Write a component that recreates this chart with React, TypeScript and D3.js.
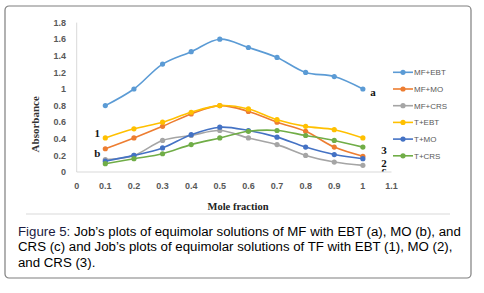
import React from "react";
import * as d3 from "d3";

const xValues = [0.1, 0.2, 0.3, 0.4, 0.5, 0.6, 0.7, 0.8, 0.9, 1.0];
const mfEbt = [0.8, 1.0, 1.3, 1.45, 1.6, 1.5, 1.38, 1.2, 1.15, 1.0];
const mfMo = [0.28, 0.41, 0.55, 0.7, 0.8, 0.73, 0.6, 0.49, 0.3, 0.19];
const mfCrs = [0.15, 0.2, 0.38, 0.44, 0.5, 0.41, 0.33, 0.2, 0.12, 0.08];
const tEbt = [0.41, 0.52, 0.6, 0.72, 0.8, 0.76, 0.63, 0.55, 0.51, 0.41];
const tMo = [0.13, 0.2, 0.29, 0.45, 0.54, 0.5, 0.42, 0.3, 0.21, 0.16];
const tCrs = [0.1, 0.16, 0.22, 0.33, 0.41, 0.49, 0.5, 0.44, 0.38, 0.3];

const seriesNames = ["MF+EBT", "MF+MO", "MF+CRS", "T+EBT", "T+MO", "T+CRS"];
const seriesColors = ["#5B9BD5", "#ED7D31", "#A5A5A5", "#FFC000", "#4472C4", "#70AD47"];
const seriesValues = [mfEbt, mfMo, mfCrs, tEbt, tMo, tCrs];
const drawOrder = [0, 1, 2, 3, 4, 5];

const xTicks = [0, 0.1, 0.2, 0.3, 0.4, 0.5, 0.6, 0.7, 0.8, 0.9, 1, 1.1];
const yTicks = [0, 0.2, 0.4, 0.6, 0.8, 1, 1.2, 1.4, 1.6, 1.8];

const captionLines = [
  ["Figure 5:", " Job\u2019s plots of equimolar solutions of MF with EBT (a), MO (b), and"],
  ["", "CRS (c) and Job\u2019s plots of equimolar solutions of TF with EBT (1), MO (2),"],
  ["", "and CRS (3)."],
];

// annotation labels: anchored to a data point, with a small pixel offset
const annotations = [
  { text: "a", x: 1.0, y: 1.0, dx: 10, dy: 7 },
  { text: "1", x: 0.1, y: 0.41, dx: -8, dy: -0.5 },
  { text: "b", x: 0.1, y: 0.28, dx: -8, dy: 8 },
  { text: "3", x: 1.0, y: 0.3, dx: 21, dy: 7 },
  { text: "2", x: 1.0, y: 0.16, dx: 21, dy: 8 },
  { text: "c", x: 1.0, y: 0.08, dx: 21, dy: 8.5 },
];

export default function App() {
  const W = 484;
  const H = 293;
  const x0 = 76.7;
  const x1 = 391.5;
  const y0 = 172;
  const y1 = 22.6;
  const x = d3.scaleLinear().domain([0, 1.1]).range([x0, x1]);
  const y = d3.scaleLinear().domain([0, 1.8]).range([y0, y1]);
  const line = d3
    .line<number>()
    .x((_, i) => x(xValues[i]))
    .y((v) => y(v))
    .curve(d3.curveCatmullRom.alpha(0.5));

  const legendX = 393;
  const legendY0 = 72.3;
  const legendDy = 16.7;

  return (
    <svg
      width={W}
      height={H}
      style={{ position: "absolute", left: 0, top: 0, background: "#fff" }}
    >
      <defs>
        <clipPath id="plotclip">
          <rect x={x0 - 5} y={0} width={x1 - x0 + 35} height={y0 - 0.5} />
        </clipPath>
      </defs>
      <rect x={5} y={6} width={466} height={272} rx={4} fill="#fff" stroke="#7f7f7f" strokeWidth={1.2} />

      {/* axes */}
      <line x1={x0} x2={x0} y1={y1} y2={y0} stroke="#d9d9d9" strokeWidth={1} />
      <line x1={x0} x2={x1} y1={y0} y2={y0} stroke="#d9d9d9" strokeWidth={1} />

      {yTicks.map((t) => (
        <text
          key={"y" + t}
          x={66}
          y={y(t) + 3.2}
          textAnchor="end"
          fontFamily="Liberation Sans, Arial, sans-serif"
          fontWeight="bold"
          fontSize={9}
          fill="#595959"
        >
          {String(t)}
        </text>
      ))}
      {xTicks.map((t) => (
        <text
          key={"x" + t}
          x={x(t)}
          y={189}
          textAnchor="middle"
          fontFamily="Liberation Sans, Arial, sans-serif"
          fontWeight="bold"
          fontSize={9}
          fill="#595959"
        >
          {String(t)}
        </text>
      ))}

      <text
        x={238}
        y={210}
        textAnchor="middle"
        fontFamily="Liberation Serif, Times New Roman, serif"
        fontWeight="bold"
        fontSize={10.5}
        fill="#222"
      >
        Mole fraction
      </text>
      <text
        transform={`translate(39,${(y0 + y1) / 2 + 27}) rotate(-90)`}
        textAnchor="middle"
        fontFamily="Liberation Serif, Times New Roman, serif"
        fontWeight="bold"
        fontSize={11}
        fill="#333"
      >
        Absorbance
      </text>

      {/* series */}
      {drawOrder.map((si) => (
        <g key={seriesNames[si]}>
          <path
            d={line(seriesValues[si]) || ""}
            fill="none"
            stroke={seriesColors[si]}
            strokeWidth={1.6}
          />
          {seriesValues[si].map((v, i) => (
            <circle key={i} cx={x(xValues[i])} cy={y(v)} r={2.6} fill={seriesColors[si]} />
          ))}
        </g>
      ))}

      {/* annotations */}
      <g clipPath="url(#plotclip)">
        {annotations.map((a) => (
          <text
            key={"ann" + a.text}
            x={x(a.x) + a.dx}
            y={y(a.y) + a.dy}
            textAnchor="middle"
            fontFamily="Liberation Serif, Times New Roman, serif"
            fontWeight="bold"
            fontSize={11}
            fill="#111"
          >
            {a.text}
          </text>
        ))}
      </g>

      {/* legend */}
      {seriesNames.map((n, i) => {
        const ly = legendY0 + i * legendDy;
        return (
          <g key={"leg" + n}>
            <line x1={legendX} x2={legendX + 20} y1={ly} y2={ly} stroke={seriesColors[i]} strokeWidth={1.6} />
            <circle cx={legendX + 10} cy={ly} r={2.6} fill={seriesColors[i]} />
            <text
              x={legendX + 21}
              y={ly + 3}
              fontFamily="Liberation Sans, Arial, sans-serif"
              fontSize={8}
              fill="#595959"
            >
              {n}
            </text>
          </g>
        );
      })}

      {/* separator */}
      <line x1={26} x2={450} y1={214} y2={214} stroke="#d9d9d9" strokeWidth={1} />

      {/* caption */}
      {captionLines.map((ln, i) => (
        <text
          key={"cap" + i}
          x={18}
          y={235.5 + i * 15.8}
          fontFamily="Liberation Sans, Arial, sans-serif"
          fontSize={13.25}
          fill="#000"
        >
          {ln[0] ? (
            <tspan fill="#1a1a40">{ln[0]}</tspan>
          ) : null}
          {ln[1]}
        </text>
      ))}
    </svg>
  );
}
